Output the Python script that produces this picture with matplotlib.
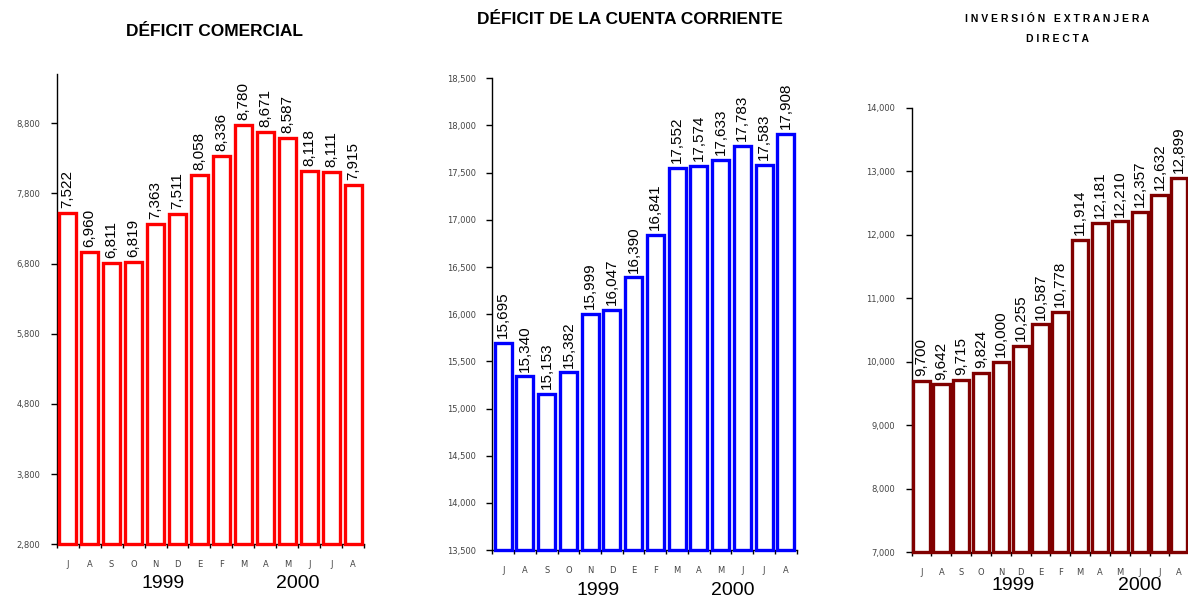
import matplotlib

matplotlib.use("Agg")
import matplotlib.pyplot as plt
import numpy as np

MONTHS = ["J", "A", "S", "O", "N", "D", "E", "F", "M", "A", "M", "J", "J", "A"]
YEARS = ["1999", "2000"]

DEFICIT_COMERCIAL = [7522, 6960, 6811, 6819, 7363, 7511, 8058, 8336, 8780, 8671, 8587, 8118, 8111, 7915]
CUENTA_CORRIENTE = [15695, 15340, 15153, 15382, 15999, 16047, 16390, 16841, 17552, 17574, 17633, 17783, 17583, 17908]
INVERSION_EXTRANJERA = [9700, 9642, 9715, 9824, 10000, 10255, 10587, 10778, 11914, 12181, 12210, 12357, 12632, 12899]

TEXT_FONT = ["Liberation Sans", "DejaVu Sans"]


def draw_panel(fig, rect, values, color, ylim, yticks, year_x, year_drop, bar_width):
    ax = fig.add_axes(rect)
    n = len(values)
    x = np.arange(n) + 0.5
    base = ylim[0]
    heights = [v - base for v in values]
    ax.bar(x, heights, bottom=base, width=bar_width, facecolor="white",
           edgecolor=color, linewidth=2.4, clip_on=False, zorder=3)

    for xi, v in zip(x, values):
        ax.annotate(f"{v:,}", xy=(xi, v), xytext=(0, 3.5), textcoords="offset points",
                    rotation=90, ha="center", va="bottom", fontsize=11,
                    family=TEXT_FONT, color="black")

    ax.set_xlim(0, n)
    ax.set_ylim(*ylim)
    ax.set_yticks(yticks)
    ax.set_yticklabels([f"{t:,}" for t in yticks], fontsize=6, color="#444444",
                       family=["DejaVu Sans"])
    ax.tick_params(axis="y", length=4, width=1, pad=8)

    # boundary ticks between months, labels centred under each bar
    ax.set_xticks(np.arange(n + 1))
    ax.set_xticklabels([])
    ax.tick_params(axis="x", length=3, width=1)
    for xi, m in zip(x, MONTHS):
        ax.annotate(m, xy=(xi, 0), xycoords=("data", "axes fraction"),
                    xytext=(0, -14.5), textcoords="offset points",
                    ha="center", va="center", fontsize=6, color="#444444",
                    family=["DejaVu Sans"], annotation_clip=False)
    for yx, label in zip(year_x, YEARS):
        ax.annotate(label, xy=(yx, 0), xycoords=("data", "axes fraction"),
                    xytext=(0, -year_drop), textcoords="offset points",
                    ha="center", va="center", fontsize=14, color="black",
                    family=TEXT_FONT, annotation_clip=False)

    for side in ["top", "right"]:
        ax.spines[side].set_visible(False)
    for side in ["left", "bottom"]:
        ax.spines[side].set_linewidth(1)
        ax.spines[side].set_color("black")
    return ax


fig = plt.figure(figsize=(11.88, 5.97), dpi=100)

draw_panel(fig, [0.0477, 0.0883, 0.2589, 0.7877], DEFICIT_COMERCIAL, "#ff0000",
           (2800, 9500), list(range(2800, 9000, 1000)), [4.83, 10.97], 28, 0.78)
draw_panel(fig, [0.4144, 0.0787, 0.2562, 0.7901], CUENTA_CORRIENTE, "#0000ff",
           (13500, 18500), list(range(13500, 19000, 500)), [4.86, 11.07], 29, 0.78)
draw_panel(fig, [0.7674, 0.0749, 0.2336, 0.7447], INVERSION_EXTRANJERA, "#800000",
           (7000, 14000), list(range(7000, 15000, 1000)), [5.1, 11.5], 24, 0.82)

fig.text(214 / 1188, 1 - 32 / 597, "DÉFICIT COMERCIAL", ha="center", va="center",
         fontsize=12.5, fontweight="bold", family=TEXT_FONT)
fig.text(630 / 1188, 1 - 20 / 597, "DÉFICIT DE LA CUENTA CORRIENTE", ha="center", va="center",
         fontsize=12.5, fontweight="bold", family=TEXT_FONT)
fig.text(1057 / 1188, 1 - 19 / 597, "I N V E R S I Ó N   E X T R A N J E R A",
         ha="center", va="center", fontsize=7.5, fontweight="bold", family=TEXT_FONT)
fig.text(1057 / 1188, 1 - 39 / 597, "D I R E C T A",
         ha="center", va="center", fontsize=7.5, fontweight="bold", family=TEXT_FONT)

fig.savefig("out.png", dpi=100)
